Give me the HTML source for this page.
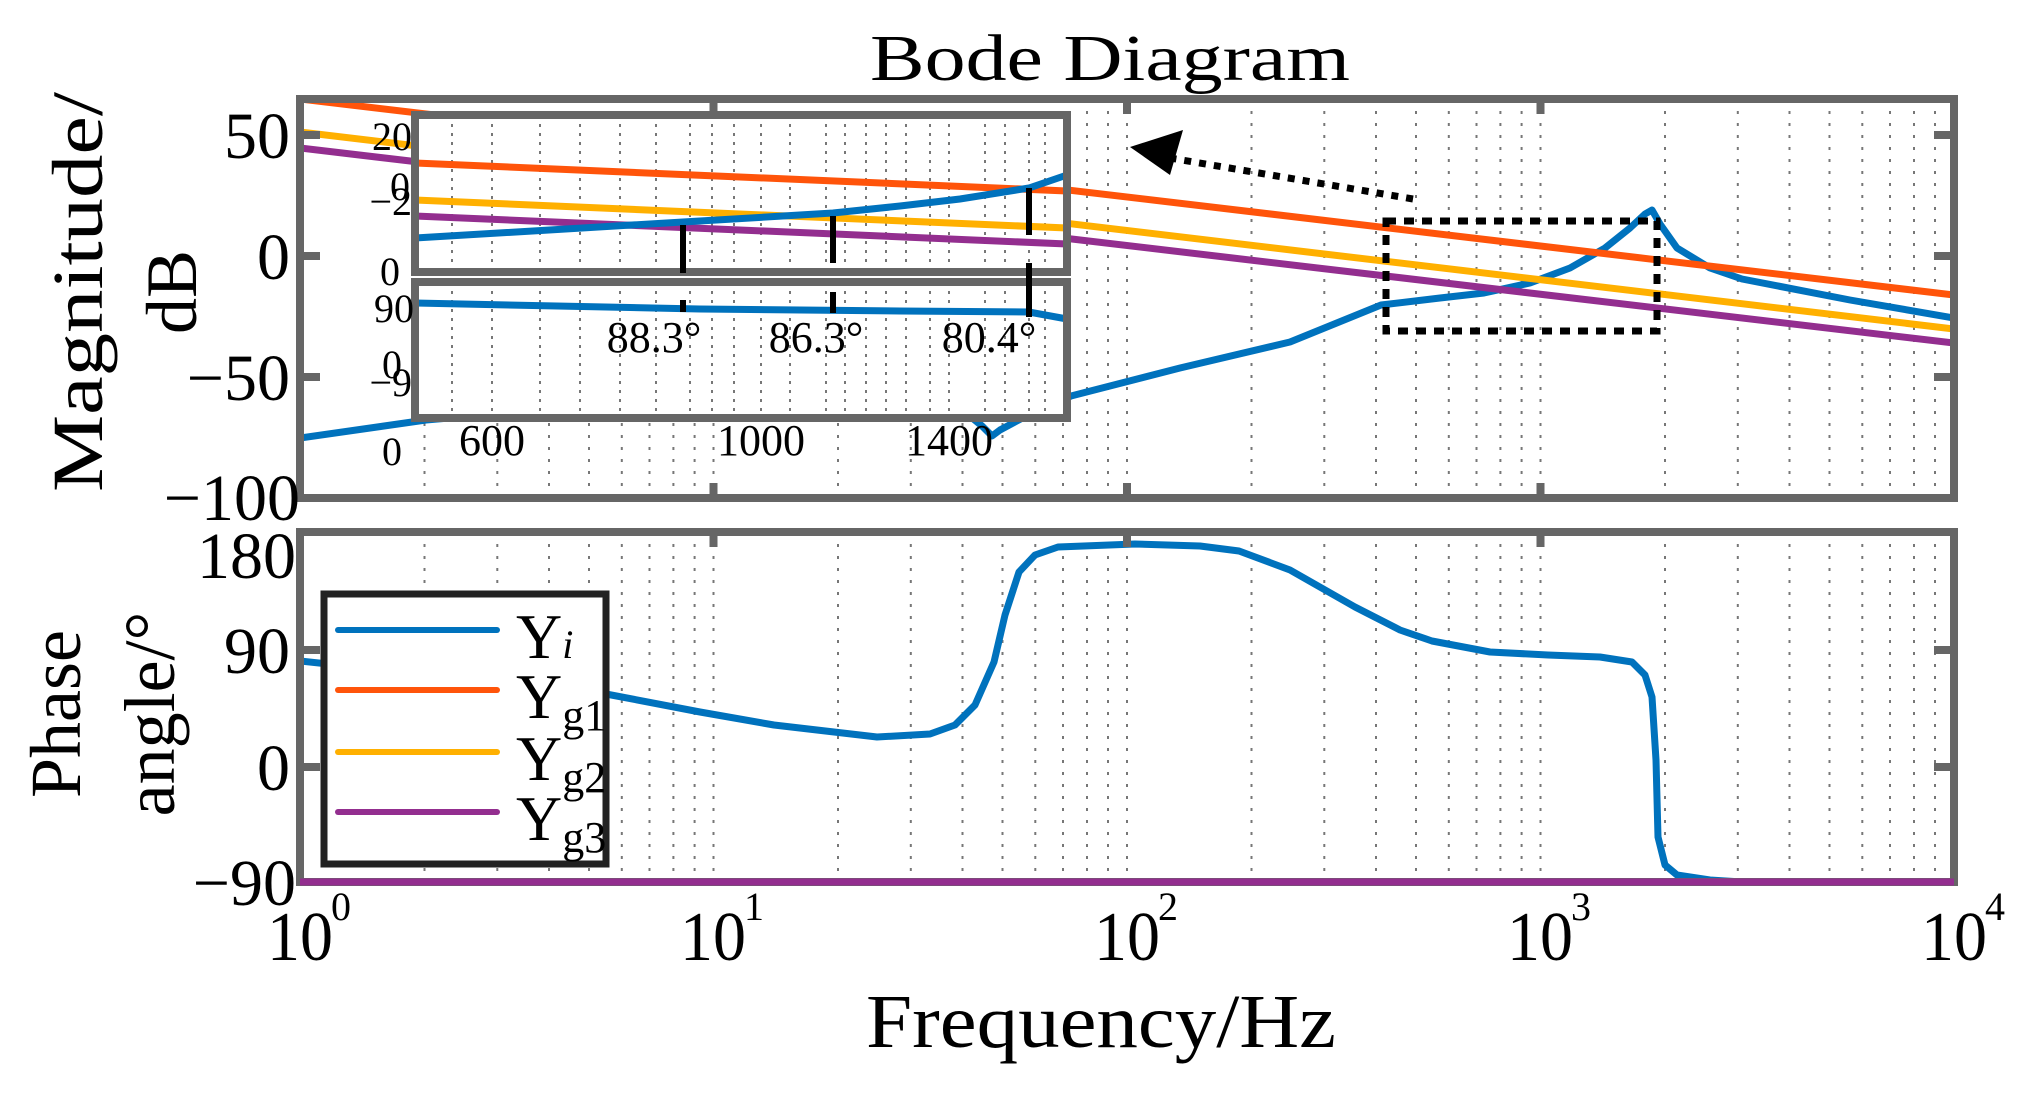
<!DOCTYPE html>
<html><head><meta charset="utf-8"><style>
html,body{margin:0;padding:0;background:#fff;}
svg{display:block;}
text{font-family:"Liberation Serif",serif;fill:#000;}
</style></head><body>
<svg width="2023" height="1093" viewBox="0 0 2023 1093" xmlns="http://www.w3.org/2000/svg">
<defs>
<clipPath id="cm"><rect x="300" y="99" width="1654" height="399"/></clipPath>
<clipPath id="cp"><rect x="300" y="532" width="1654" height="350"/></clipPath>
</defs>
<text x="1110" y="80" font-size="66" text-anchor="middle" textLength="480" lengthAdjust="spacingAndGlyphs">Bode Diagram</text>

<g stroke="#777" stroke-width="2" stroke-dasharray="3,9" fill="none">
<path d="M424.5 99V498M497.3 99V498M549 99V498M589 99V498M621.8 99V498M649.5 99V498M673.4 99V498M694.6 99V498M713.5 99V498
M838 99V498M910.8 99V498M962.5 99V498M1002.5 99V498M1035.3 99V498M1063 99V498M1087 99V498M1108 99V498M1127 99V498
M1251.5 99V498M1324.3 99V498M1376 99V498M1416 99V498M1448.8 99V498M1476.5 99V498M1500.4 99V498M1521.6 99V498M1540.5 99V498
M1665 99V498M1737.8 99V498M1789.5 99V498M1829.5 99V498M1862.3 99V498M1890 99V498M1914 99V498M1935 99V498"/>
<path transform="translate(0,433)" d="M424.5 99V449M497.3 99V449M549 99V449M589 99V449M621.8 99V449M649.5 99V449M673.4 99V449M694.6 99V449M713.5 99V449
M838 99V449M910.8 99V449M962.5 99V449M1002.5 99V449M1035.3 99V449M1063 99V449M1087 99V449M1108 99V449M1127 99V449
M1251.5 99V449M1324.3 99V449M1376 99V449M1416 99V449M1448.8 99V449M1476.5 99V449M1500.4 99V449M1521.6 99V449M1540.5 99V449
M1665 99V449M1737.8 99V449M1789.5 99V449M1829.5 99V449M1862.3 99V449M1890 99V449M1914 99V449M1935 99V449"/>
</g>

<g clip-path="url(#cm)" fill="none" stroke-width="7" stroke-linejoin="round">
<path stroke="#0072bd" d="M300 438 L426 420 L600 405 L800 398 L940 402 L965 412 L982 426 L992 436 L1000 430 L1030 414 L1071 396 L1180 368 L1290 342 L1381 305 L1440 298 L1484 293 L1530 283 L1570 268 L1605 248 L1630 228 L1645 214 L1652 210 L1660 224 L1677 248 L1710 268 L1742 279 L1850 300 L1954 318"/>
<path stroke="#ff540a" d="M300 99 L1954 295"/>
<path stroke="#ffb000" d="M300 132 L1954 329"/>
<path stroke="#932e8f" d="M300 148 L1954 343"/>
</g>

<rect x="1386" y="221" width="271" height="110" fill="none" stroke="#000" stroke-width="7" stroke-dasharray="10,8"/>
<path d="M1413 199 L1170 158" stroke="#000" stroke-width="7" stroke-dasharray="7,8" fill="none"/>
<polygon points="1130,147 1183,130 1170,175" fill="#000"/>

<rect x="300" y="99" width="1654" height="399" fill="none" stroke="#666" stroke-width="8"/>
<g stroke="#666" stroke-width="8">
<path d="M300 135h20M300 256h20M300 377h20M1954 135h-20M1954 256h-20M1954 377h-20"/>
<path d="M713.5 99v15M1127 99v15M1540.5 99v15M713.5 498v-15M1127 498v-15M1540.5 498v-15"/>
</g>
<g font-size="66" text-anchor="end">
<text x="290" y="158">50</text>
<text x="290" y="279">0</text>
<text x="290" y="400">−50</text>
<text x="300" y="520">−100</text>
</g>
<text transform="translate(102,292) rotate(-90)" font-size="72" text-anchor="middle" textLength="400" lengthAdjust="spacingAndGlyphs">Magnitude/</text>
<text transform="translate(196,292) rotate(-90)" font-size="72" text-anchor="middle">dB</text>

<rect x="415" y="115" width="652" height="157" fill="#fff"/>
<g stroke="#777" stroke-width="2" stroke-dasharray="3,6">
<path d="M452 115V272M492 115V272M540 115V272M580 115V272M620 115V272M656 115V272M690 115V272M712 115V272M734 115V272M761 115V272M790 115V272M826 115V272M845 115V272M866 115V272M886 115V272M906 115V272M930 115V272M949 115V272M985 115V272M1005 115V272M1029 115V272M1045 115V272"/>
</g>
<g fill="none" stroke-width="7">
<path stroke="#ff540a" d="M415 163 L1067 191"/>
<path stroke="#ffb000" d="M415 200 L1067 228"/>
<path stroke="#932e8f" d="M415 216 L1067 244"/>
<path stroke="#0072bd" d="M415 238 L683 222 L833 213 L900 206 L960 199 L1029 188 L1067 175"/>
</g>
<rect x="415" y="115" width="652" height="157" fill="none" stroke="#666" stroke-width="8"/>
<g stroke="#000" stroke-width="6">
<path d="M683 225V273M833 216V263M1029 188V235"/>
</g>

<rect x="415" y="282" width="652" height="136" fill="#fff"/>
<g stroke="#777" stroke-width="2" stroke-dasharray="3,6">
<path d="M452 282V418M492 282V418M540 282V418M580 282V418M620 282V418M656 282V418M690 282V418M712 282V418M734 282V418M761 282V418M790 282V418M826 282V418M845 282V418M866 282V418M886 282V418M906 282V418M930 282V418M949 282V418M985 282V418M1005 282V418M1029 282V418M1045 282V418"/>
</g>
<g fill="none" stroke-width="7">
<path stroke="#0072bd" d="M415 303 L700 309 L900 311 L1029 312 L1067 319"/>
<path stroke="#932e8f" d="M415 418 L1067 418"/>
</g>
<rect x="415" y="282" width="652" height="136" fill="none" stroke="#666" stroke-width="8"/>
<g stroke="#000" stroke-width="6">
<path d="M683 300V312M833 292V313M1029 263V317"/>
</g>
<g font-size="40" text-anchor="end">
<text x="412" y="150">20</text>
<text x="410" y="200">0</text>
<text x="412" y="215">−2</text>
<text x="400" y="285">0</text>
<text x="414" y="322">90</text>
<text x="402" y="378">0</text>
<text x="412" y="396">−9</text>
<text x="402" y="465">0</text>
</g>
<g font-size="44" text-anchor="middle">
<text x="492" y="455">600</text>
<text x="761" y="455">1000</text>
<text x="949" y="455">1400</text>
<text x="654" y="352">88.3°</text>
<text x="816" y="352">86.3°</text>
<text x="989" y="352">80.4°</text>
</g>

<g clip-path="url(#cp)" fill="none" stroke-width="7" stroke-linejoin="round">
<path stroke="#0072bd" d="M300 661 L450 677 L606 694 L700 712 L774 725 L877 737 L930 734 L955 725 L975 705 L994 662 L1005 615 L1019 572 L1035 555 L1058 547 L1135 544 L1200 546 L1239 551 L1290 570 L1355 607 L1400 630 L1432 641 L1490 652 L1548 655 L1600 657 L1632 662 L1645 675 L1652 697 L1656 760 L1658 837 L1665 865 L1677 875 L1710 880 L1742 882 L1954 882"/>
<path stroke="#932e8f" d="M300 882 L1954 882"/>
</g>
<rect x="300" y="532" width="1654" height="350" fill="none" stroke="#666" stroke-width="8"/>
<g stroke="#666" stroke-width="8">
<path d="M300 650h20M300 767h20M1954 650h-20M1954 767h-20"/>
<path d="M713.5 532v15M1127 532v15M1540.5 532v15"/>
</g>
<path d="M300 882 L1954 882" stroke="#932e8f" stroke-width="7"/>
<g font-size="66" text-anchor="end">
<text x="296" y="578">180</text>
<text x="290" y="673">90</text>
<text x="290" y="790">0</text>
<text x="296" y="905">−90</text>
</g>
<text transform="translate(80,714) rotate(-90)" font-size="72" text-anchor="middle">Phase</text>
<text transform="translate(174,714) rotate(-90)" font-size="72" text-anchor="middle">angle/°</text>

<rect x="324" y="594" width="282" height="270" fill="#fff" stroke="#222" stroke-width="7"/>
<g stroke-width="6" stroke-linecap="round">
<path stroke="#0072bd" d="M338 630H497"/>
<path stroke="#ff540a" d="M338 690H497"/>
<path stroke="#ffb000" d="M338 752H497"/>
<path stroke="#932e8f" d="M338 812H497"/>
</g>
<g font-size="64">
<text x="516" y="658">Υ<tspan font-size="40" font-style="italic">i</tspan></text>
<text x="516" y="718">Υ<tspan font-size="44" dy="12">g1</tspan></text>
<text x="516" y="780">Υ<tspan font-size="44" dy="12">g2</tspan></text>
<text x="516" y="840">Υ<tspan font-size="44" dy="12">g3</tspan></text>
</g>

<g font-size="70">
<text x="267" y="960" textLength="66" lengthAdjust="spacingAndGlyphs">10</text><text x="331" y="920" font-size="40">0</text>
<text x="680" y="960" textLength="66" lengthAdjust="spacingAndGlyphs">10</text><text x="744" y="920" font-size="40">1</text>
<text x="1094" y="960" textLength="66" lengthAdjust="spacingAndGlyphs">10</text><text x="1158" y="920" font-size="40">2</text>
<text x="1507" y="960" textLength="66" lengthAdjust="spacingAndGlyphs">10</text><text x="1571" y="920" font-size="40">3</text>
<text x="1921" y="960" textLength="66" lengthAdjust="spacingAndGlyphs">10</text><text x="1985" y="920" font-size="40">4</text>
</g>
<text x="866" y="1047" font-size="76" textLength="470" lengthAdjust="spacingAndGlyphs">Frequency/Hz</text>
</svg>
</body></html>
